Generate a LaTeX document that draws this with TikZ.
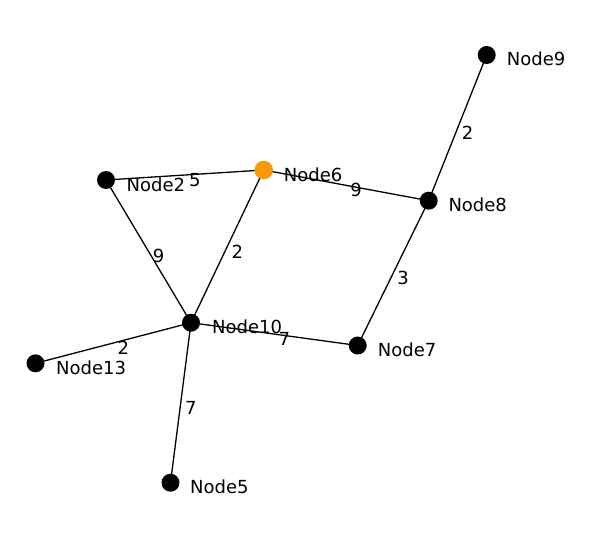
\documentclass[tikz,border=0pt]{standalone}
\usepackage{fontspec}
\setmainfont{DejaVu Sans}
\definecolor{nodeorange}{RGB}{250,152,10}
\begin{document}
\begin{tikzpicture}[x=1pt,y=-1pt,
  vertex/.style={circle,fill=black,inner sep=0pt,minimum size=18pt},
  hivertex/.style={circle,fill=nodeorange,inner sep=0pt,minimum size=18.5pt},
  edge/.style={draw=black,line width=1.3pt},
  nlabel/.style={anchor=base west,inner sep=0pt,font=\fontsize{18}{20}\selectfont},
  wlabel/.style={pos=0.5,inner sep=0pt,xshift=10pt,yshift=-5pt,font=\fontsize{18}{20}\selectfont}]
\useasboundingbox (0,0) rectangle (600,533);
% coordinates
\coordinate (c9) at (486.7,55);
\coordinate (c6) at (263.7,170);
\coordinate (c2) at (106,180);
\coordinate (c8) at (428.7,200.7);
\coordinate (c10) at (191,322.7);
\coordinate (c7) at (357.7,345.5);
\coordinate (c13) at (35.5,363.3);
\coordinate (c5) at (170.5,482.7);
% edges
\path[edge] (c9) -- (c8) node[wlabel] {2};
\path[edge] (c2) -- (c6) node[wlabel] {5};
\path[edge] (c6) -- (c8) node[wlabel] {9};
\path[edge] (c2) -- (c10) node[wlabel] {9};
\path[edge] (c6) -- (c10) node[wlabel] {2};
\path[edge] (c8) -- (c7) node[wlabel] {3};
\path[edge] (c10) -- (c7) node[wlabel] {7};
\path[edge] (c10) -- (c13) node[wlabel] {2};
\path[edge] (c10) -- (c5) node[wlabel] {7};
% vertices
\node[vertex] (n9) at (c9) {};
\node[hivertex] (n6) at (c6) {};
\node[vertex] (n2) at (c2) {};
\node[vertex] (n8) at (c8) {};
\node[vertex] (n10) at (c10) {};
\node[vertex] (n7) at (c7) {};
\node[vertex] (n13) at (c13) {};
\node[vertex] (n5) at (c5) {};
% labels
\node[nlabel] (l9) at ([xshift=20pt,yshift=-10.7pt]c9) {Node9};
\node[nlabel] (l6) at ([xshift=20pt,yshift=-11pt]c6) {Node6};
\node[nlabel] (l2) at ([xshift=20.5pt,yshift=-11pt]c2) {Node2};
\node[nlabel] (l8) at ([xshift=19.6pt,yshift=-11pt]c8) {Node8};
\node[nlabel] (l10) at ([xshift=21pt,yshift=-11pt]c10) {Node10};
\node[nlabel] (l7) at ([xshift=20pt,yshift=-11pt]c7) {Node7};
\node[nlabel] (l13) at ([xshift=20.5pt,yshift=-11pt]c13) {Node13};
\node[nlabel] (l5) at ([xshift=19.5pt,yshift=-10.5pt]c5) {Node5};
\end{tikzpicture}
\end{document}
